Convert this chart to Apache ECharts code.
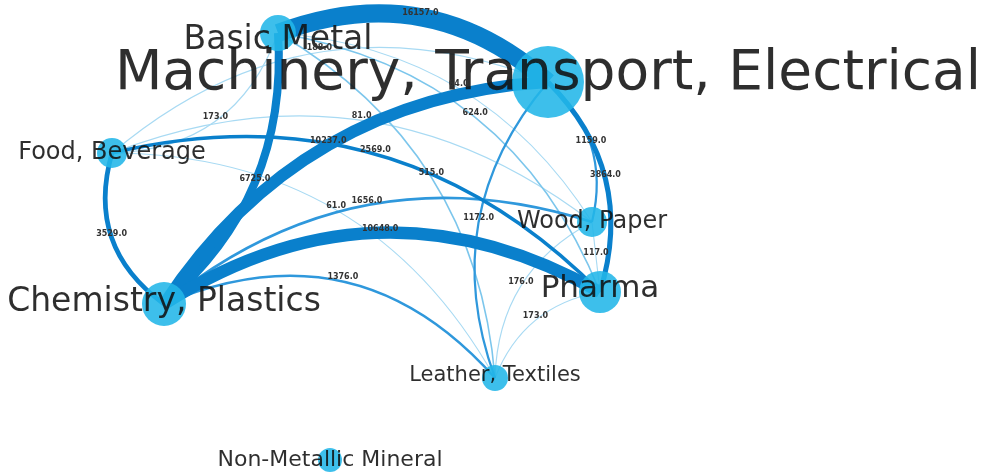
<!DOCTYPE html>
<html>
<head>
<meta charset="utf-8">
<script src="https://cdn.jsdelivr.net/npm/echarts@6/dist/echarts.min.js"></script>
<style>
  html, body { margin: 0; padding: 0; background: #fff; }
  #main { width: 994px; height: 475px; }
</style>
</head>
<body>
<div id="main"></div>
<script>
// sectors (nodes)
const nodeNames = ['Basic Metal', 'Machinery, Transport, Electrical', 'Food, Beverage', 'Wood, Paper',
  'Chemistry, Plastics', 'Pharma', 'Leather, Textiles', 'Non-Metallic Mineral'];

// links between sectors
const edgeSource = [0, 4, 4, 4, 2, 1, 1, 2, 4, 2, 0, 1, 0, 0, 2, 2, 3, 6, 6, 4, 2];
const edgeTarget = [1, 5, 1, 0, 4, 5, 3, 5, 3, 6, 6, 6, 3, 5, 3, 1, 5, 3, 5, 6, 0];
const edgeValue  = [16157, 10648, 10237, 6725, 3529, 3864, 1159, 2569, 1656, 61, 515, 1172, 64, 624, 81, 188, 117, 176, 173, 1376, 173];

// layout of the drawing (not data)
const nodeX = [278, 548, 112, 592, 164, 600, 495, 330];
const nodeY = [33, 82, 153, 222, 304, 292, 378, 460];
const nodeSymbolSize = [36, 72, 30, 30, 44, 42, 26, 24];
const nodeFontSize = [33, 55, 24, 24, 33, 31, 21, 22];
const nodeLabelShift = [7, -7, 0, 0, -2, -3, -2, 0];
const edgeCurve = [0.3, 0.3, 0.25, -0.25, -0.35, 0.3, 0.3, 0.28, 0.27, 0.29, 0.26, -0.29, 0.25, 0.28, 0.28, 0.3, 0, 0.29, 0.28, 0.36, -0.34];

function edgeColor(v) {
  if (v >= 2000) return '#0a80cc';
  if (v >= 1000) return '#2f98dc';
  if (v >= 400) return '#7cc6ec';
  return '#a8daf3';
}

const nodes = nodeNames.map((name, i) => ({
  name: name,
  x: nodeX[i],
  y: nodeY[i],
  symbolSize: nodeSymbolSize[i],
  label: { fontSize: nodeFontSize[i], offset: [0, nodeLabelShift[i]] }
}));

let links = edgeValue.map((v, i) => ({
  source: nodeNames[edgeSource[i]],
  target: nodeNames[edgeTarget[i]],
  value: v,
  lineStyle: {
    width: 1 + v / 950,
    color: edgeColor(v),
    curveness: edgeCurve[i]
  }
}));
links.sort((a, b) => a.value - b.value);

const minX = Math.min(...nodeX), maxX = Math.max(...nodeX);
const minY = Math.min(...nodeY), maxY = Math.max(...nodeY);

const chart = echarts.init(document.getElementById('main'));
chart.setOption({
  backgroundColor: '#fff',
  animation: false,
  series: [{
    type: 'graph',
    layout: 'none',
    roam: false,
    left: minX,
    top: minY,
    width: maxX - minX,
    height: maxY - minY,
    symbol: 'circle',
    itemStyle: { color: '#22b6e8', opacity: 0.88 },
    lineStyle: { opacity: 1 },
    label: {
      show: true,
      position: 'inside',
      color: '#111',
      fontFamily: 'DejaVu Sans'
    },
    edgeSymbol: ['none', 'none'],
    edgeLabel: {
      show: true,
      rotate: 0,
      distance: 0,
      fontSize: 8,
      fontWeight: 'bold',
      color: '#333',
      fontFamily: 'DejaVu Sans',
      formatter: p => p.value.toFixed(1)
    },
    data: nodes,
    links: links
  }]
});
</script>
</body>
</html>
